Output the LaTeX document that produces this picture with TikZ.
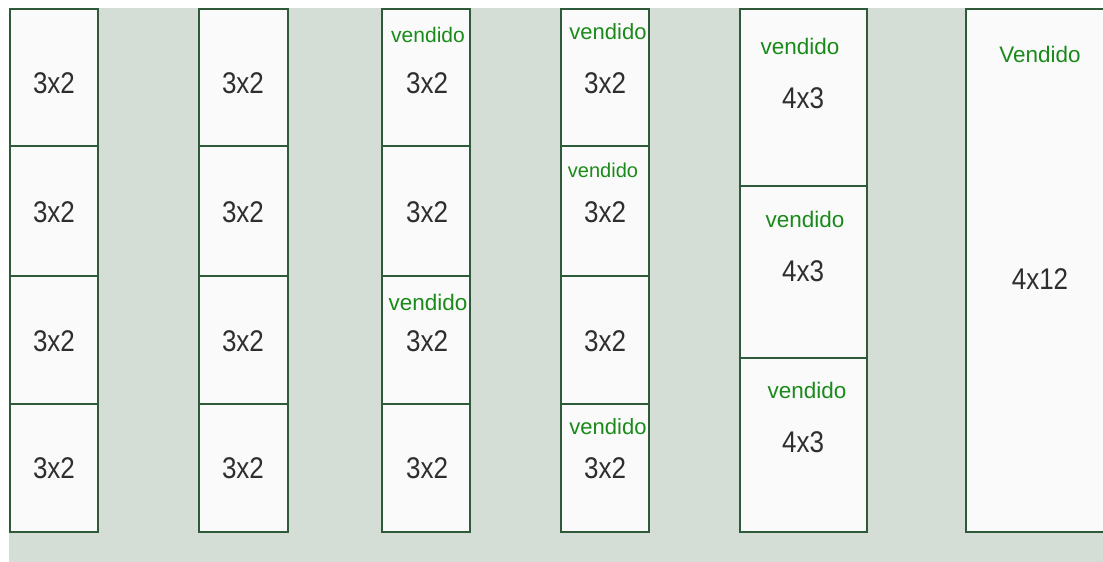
\documentclass[tikz,border=0pt]{standalone}
\usepackage{fontspec}
\setmainfont{Liberation Sans}
\usepackage{graphicx}
\definecolor{bggray}{HTML}{D4DDD6}
\definecolor{boxfill}{HTML}{FAFAFA}
\definecolor{boxline}{HTML}{2E5A3A}
\definecolor{soldgreen}{HTML}{1A8A1A}
\definecolor{sizegray}{HTML}{2E2E2E}
\newcommand{\sz}[1]{\scalebox{1}[1.15]{#1}}
\begin{document}
\begin{tikzpicture}[x=1pt,y=-1pt,
  lot/.style={draw=boxline,line width=1.8pt,fill=boxfill,inner sep=0pt,outer sep=0pt},
  size/.style={text=sizegray,font=\fontsize{26}{28}\selectfont,inner sep=0pt},
  sold/.style={text=soldgreen,font=\fontsize{21.5}{24}\selectfont,inner sep=0pt}]
\useasboundingbox (0,0) rectangle (1103,562);
\fill[white] (0,0) rectangle (1103,562);
\fill[bggray] (9,8) rectangle (1103,562);
% columns of 3x2 lots
\node[lot,minimum width=88pt,minimum height=137pt] (a1) at (54,77.5) {};
\node[lot,minimum width=88pt,minimum height=130pt] (a2) at (54,211) {};
\node[lot,minimum width=88pt,minimum height=128pt] (a3) at (54,340) {};
\node[lot,minimum width=88pt,minimum height=128pt] (a4) at (54,468) {};
\node[lot,minimum width=89pt,minimum height=137pt] (b1) at (243.5,77.5) {};
\node[lot,minimum width=89pt,minimum height=130pt] (b2) at (243.5,211) {};
\node[lot,minimum width=89pt,minimum height=128pt] (b3) at (243.5,340) {};
\node[lot,minimum width=89pt,minimum height=128pt] (b4) at (243.5,468) {};
\node[lot,minimum width=88pt,minimum height=137pt] (c1) at (426,77.5) {};
\node[lot,minimum width=88pt,minimum height=130pt] (c2) at (426,211) {};
\node[lot,minimum width=88pt,minimum height=128pt] (c3) at (426,340) {};
\node[lot,minimum width=88pt,minimum height=128pt] (c4) at (426,468) {};
\node[lot,minimum width=88pt,minimum height=137pt] (d1) at (605,77.5) {};
\node[lot,minimum width=88pt,minimum height=130pt] (d2) at (605,211) {};
\node[lot,minimum width=88pt,minimum height=128pt] (d3) at (605,340) {};
\node[lot,minimum width=88pt,minimum height=128pt] (d4) at (605,468) {};
% 4x3 column
\node[lot,minimum width=127pt,minimum height=177pt] (e1) at (803.5,97.5) {};
\node[lot,minimum width=127pt,minimum height=172pt] (e2) at (803.5,272) {};
\node[lot,minimum width=127pt,minimum height=174pt] (e3) at (803.5,445) {};
% 4x12 lot
\node[lot,minimum width=160pt,minimum height=523pt] (f1) at (1046,270.5) {};
% sizes
\node[size] (ta1) at (54,83) {\sz{3x2}};
\node[size] (ta2) at (54,212) {\sz{3x2}};
\node[size] (ta3) at (54,341) {\sz{3x2}};
\node[size] (ta4) at (54,468) {\sz{3x2}};
\node[size] (tb1) at (243,83) {\sz{3x2}};
\node[size] (tb2) at (243,212) {\sz{3x2}};
\node[size] (tb3) at (243,341) {\sz{3x2}};
\node[size] (tb4) at (243,468) {\sz{3x2}};
\node[size] (tc1) at (427,83) {\sz{3x2}};
\node[size] (tc2) at (427,212) {\sz{3x2}};
\node[size] (tc3) at (427,341) {\sz{3x2}};
\node[size] (tc4) at (427,468) {\sz{3x2}};
\node[size] (td1) at (605,83) {\sz{3x2}};
\node[size] (td2) at (605,212) {\sz{3x2}};
\node[size] (td3) at (605,341) {\sz{3x2}};
\node[size] (td4) at (605,468) {\sz{3x2}};
\node[size] (te1) at (803,98) {\sz{4x3}};
\node[size] (te2) at (803,271) {\sz{4x3}};
\node[size] (te3) at (803,442) {\sz{4x3}};
\node[size] (tf1) at (1040,279) {\sz{4x12}};
% sold labels
\node[sold,font=\fontsize{21}{24}\selectfont] (sc1) at (428,35) {vendido};
\node[sold,font=\fontsize{22.5}{24}\selectfont] (sc3) at (428,302) {vendido};
\node[sold,font=\fontsize{22}{24}\selectfont] (sd1) at (608,32) {vendido};
\node[sold,font=\fontsize{20}{24}\selectfont] (sd2) at (603,170) {vendido};
\node[sold,font=\fontsize{22}{24}\selectfont] (sd4) at (608,427) {vendido};
\node[sold,font=\fontsize{22.5}{24}\selectfont] (se1) at (800,46) {vendido};
\node[sold,font=\fontsize{22.5}{24}\selectfont] (se2) at (805,219) {vendido};
\node[sold,font=\fontsize{22.5}{24}\selectfont] (se3) at (807,390) {vendido};
\node[sold,font=\fontsize{22.5}{24}\selectfont] (sf1) at (1040,54) {Vendido};
\end{tikzpicture}
\end{document}
